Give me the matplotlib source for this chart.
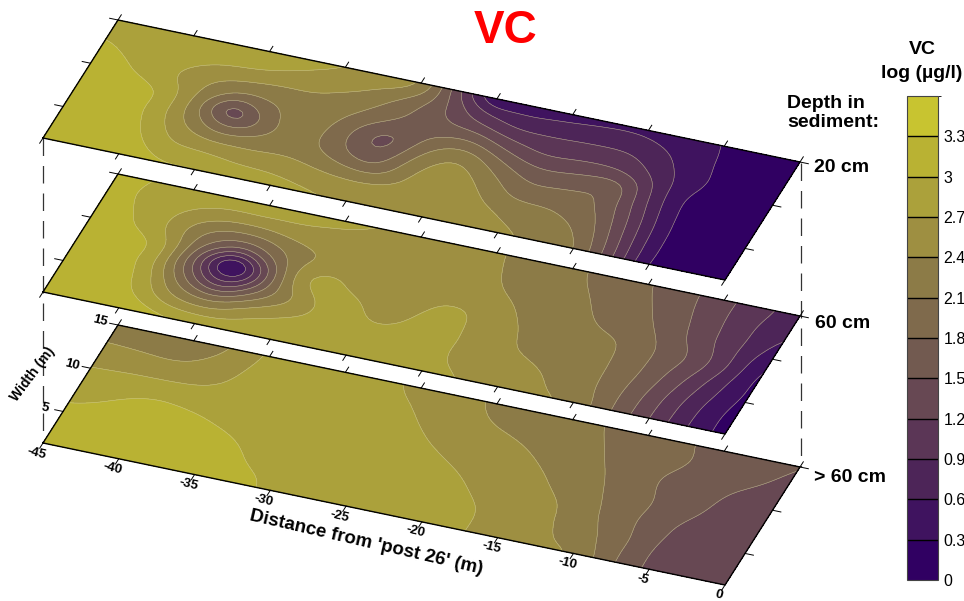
import numpy as np
import matplotlib
matplotlib.use("Agg")
import matplotlib.pyplot as plt
import matplotlib.tri as mtri
from matplotlib.colors import ListedColormap, BoundaryNorm
from matplotlib.cm import ScalarMappable
from matplotlib.transforms import Affine2D

plt.rcParams['font.family'] = ['Liberation Sans', 'DejaVu Sans']

# grid of the survey area, metres
distance = [-45, -42.5, -40, -37.5, -35, -32.5, -30, -27.5, -25, -22.5, -20, -17.5, -15, -12.5, -10, -7.5, -5, -2.5, 0]
width = [15, 12.725, 10.45, 8.175, 5.9, 3.625, 1.35]

# log VC, one row per width (15 m first)
vc_20cm = [
    [2.85, 2.88, 2.92, 2.96, 3.02, 2.85, 2.72, 2.55, 2.42, 1.22, 0.22, 0.38, 0.45, 0.50, 0.50, 0.42, 0.28, 0.15, 0.05],
    [3.02, 2.90, 2.85, 2.73, 2.68, 2.58, 2.47, 2.33, 1.95, 1.48, 1.05, 0.80, 0.83, 0.85, 0.83, 0.58, 0.30, 0.17, 0.05],
    [3.12, 3.00, 2.75, 2.42, 2.18, 2.18, 2.27, 2.08, 1.75, 1.68, 1.72, 1.35, 1.15, 1.20, 1.15, 0.75, 0.33, 0.15, 0.05],
    [3.20, 3.15, 3.02, 2.30, 1.22, 2.00, 2.25, 1.85, 1.36, 2.00, 2.35, 1.95, 1.62, 1.67, 1.75, 0.90, 0.22, 0.10, 0.03],
    [3.22, 3.20, 3.00, 2.43, 2.00, 2.15, 2.25, 2.00, 1.70, 2.30, 2.60, 2.30, 1.95, 1.97, 1.78, 1.05, 0.25, 0.10, 0.03],
    [3.22, 3.22, 3.10, 2.72, 2.65, 2.55, 2.55, 2.45, 2.40, 2.50, 2.65, 2.50, 2.32, 2.20, 1.97, 1.15, 0.27, 0.08, 0.02],
    [3.25, 3.25, 3.20, 3.05, 3.05, 2.95, 2.85, 2.75, 2.68, 2.62, 2.58, 2.52, 2.45, 2.35, 2.15, 1.25, 0.25, 0.08, 0.02],
]
vc_60cm = [
    [3.10, 3.00, 2.90, 2.93, 3.02, 2.90, 2.80, 2.70, 2.65, 2.60, 2.43, 2.30, 2.16, 2.00, 1.82, 1.60, 1.30, 1.00, 0.72],
    [3.15, 2.95, 2.75, 2.50, 2.45, 2.55, 2.55, 2.55, 2.52, 2.50, 2.45, 2.33, 2.20, 2.07, 1.90, 1.65, 1.32, 0.95, 0.60],
    [3.18, 3.02, 2.65, 2.00, 1.70, 2.07, 2.42, 2.55, 2.55, 2.55, 2.50, 2.40, 2.27, 2.13, 1.97, 1.75, 1.35, 0.95, 0.42],
    [3.20, 3.15, 2.92, 1.60, 0.02, 1.55, 2.75, 2.70, 2.55, 2.65, 2.75, 2.50, 2.33, 2.22, 2.15, 1.85, 1.50, 0.95, 0.20],
    [3.22, 3.20, 2.90, 1.88, 1.00, 1.80, 2.42, 2.85, 2.65, 2.72, 2.77, 2.55, 2.37, 2.27, 2.17, 1.85, 1.35, 0.75, 0.20],
    [3.22, 3.22, 3.02, 2.45, 2.25, 2.55, 2.75, 2.85, 2.80, 2.80, 2.75, 2.60, 2.50, 2.38, 2.20, 1.80, 1.23, 0.63, 0.15],
    [3.22, 3.22, 3.20, 3.10, 3.03, 2.98, 2.92, 2.88, 2.85, 2.82, 2.78, 2.70, 2.58, 2.45, 2.33, 1.80, 1.20, 0.60, 0.15],
]
vc_deep = [
    [2.25, 2.18, 2.08, 2.40, 2.75, 2.85, 2.90, 2.78, 2.62, 2.50, 2.35, 2.28, 2.18, 2.08, 1.97, 1.82, 1.72, 1.60, 1.50],
    [2.42, 2.40, 2.38, 2.55, 2.80, 2.88, 2.88, 2.83, 2.72, 2.55, 2.42, 2.35, 2.25, 2.13, 1.95, 1.85, 1.70, 1.58, 1.42],
    [2.67, 2.68, 2.68, 2.72, 2.85, 2.87, 2.87, 2.85, 2.78, 2.67, 2.55, 2.47, 2.35, 2.20, 2.00, 1.78, 1.62, 1.45, 1.30],
    [2.87, 2.95, 3.02, 2.98, 2.92, 2.88, 2.87, 2.85, 2.82, 2.75, 2.67, 2.55, 2.45, 2.28, 2.05, 1.83, 1.58, 1.40, 1.28],
    [3.00, 3.05, 3.10, 3.07, 3.03, 2.95, 2.90, 2.87, 2.85, 2.82, 2.77, 2.63, 2.50, 2.40, 2.10, 1.80, 1.48, 1.35, 1.25],
    [3.10, 3.15, 3.18, 3.15, 3.10, 3.00, 2.93, 2.90, 2.87, 2.85, 2.80, 2.72, 2.55, 2.43, 2.20, 1.85, 1.42, 1.30, 1.22],
    [3.15, 3.20, 3.22, 3.20, 3.15, 3.08, 2.96, 2.92, 2.88, 2.85, 2.80, 2.72, 2.58, 2.48, 2.38, 1.85, 1.42, 1.30, 1.20],
]

layers = [vc_20cm, vc_60cm, vc_deep]
layer_names = ["20 cm", "60 cm", "> 60 cm"]
layer_base = [138, 292, 443]  # pixel row of the lower left corner

levels = [0, 0.3, 0.6, 0.9, 1.2, 1.5, 1.8, 2.1, 2.4, 2.7, 3.0, 3.3, 3.6]
level_colors = ["#300062", "#3f135f", "#4d2558", "#5b3656", "#674853", "#725a50",
                "#7f6a4c", "#8c7b47", "#9e8f41", "#aba13b", "#b9b233", "#c8c430"]
level_labels = ["0", "0.3", "0.6", "0.9", "1.2", "1.5", "1.8", "2.1", "2.4", "2.7", "3", "3.3"]

x_ticks = [-45, -40, -35, -30, -25, -20, -15, -10, -5, 0]
y_ticks = [5, 10, 15]

X0, X1 = -45, 0
Y0, Y1 = 1.35, 15


def surface_transform(ax, base):
    # oblique projection of a map layer onto the page
    xx = 682 / (X1 - X0)
    xy = 142 / (X1 - X0)
    yx = 75 / (Y1 - Y0)
    yy = -118 / (Y1 - Y0)
    return Affine2D().from_values(xx, xy, yx, yy, 43 - X0 * xx - Y0 * yx, base - X0 * xy - Y0 * yy) + ax.transData


def soften(z, size=11):
    # the original map is kriged, so take the corners off the hand-read grid
    kernel = np.hanning(size + 2)[1:-1]
    kernel = kernel / kernel.sum()
    pad = size // 2
    z = np.pad(z, pad, mode="edge")
    z = np.apply_along_axis(lambda r: np.convolve(r, kernel, mode="same"), 0, z)
    z = np.apply_along_axis(lambda r: np.convolve(r, kernel, mode="same"), 1, z)
    return z[pad:-pad, pad:-pad]


def draw_layer(ax, values, base, cmap, norm):
    tr = surface_transform(ax, base)
    X, Y = np.meshgrid(distance, width)
    tri = mtri.Triangulation(X.ravel(), Y.ravel())
    interp = mtri.CubicTriInterpolator(tri, np.array(values).ravel(), kind="geom")
    xf = np.linspace(X0, X1, 145)
    yf = np.linspace(Y0, Y1, 49)
    Xf, Yf = np.meshgrid(xf, yf)
    zf = soften(np.ma.filled(interp(Xf, Yf), np.nan))
    zf = np.clip(zf, 0.01, 3.55)
    ax.contourf(Xf, Yf, zf, levels=levels, cmap=cmap, norm=norm, transform=tr)
    ax.contour(Xf, Yf, zf, levels=levels[1:-1], colors="#cfc8a6", linewidths=0.4, alpha=0.75, transform=tr)

    ax.plot([X0, X1, X1, X0, X0], [Y0, Y0, Y1, Y1, Y0], color="black", lw=1.0, transform=tr, solid_joinstyle="miter")
    # ticks stick out of all four edges
    for t in x_ticks:
        ax.plot([t, t], [Y1, Y1 + 0.6], color="black", lw=0.7, transform=tr)
        ax.plot([t, t], [Y0, Y0 - 0.6], color="black", lw=0.7, transform=tr)
    for t in y_ticks:
        ax.plot([X0, X0 - 0.55], [t, t], color="black", lw=0.7, transform=tr)
        ax.plot([X1, X1 + 0.55], [t, t], color="black", lw=0.7, transform=tr)
    return tr


def main():
    fig = plt.figure(figsize=(9.64, 6.01), dpi=100)
    ax = fig.add_axes([0, 0, 1, 1])
    ax.set_xlim(0, 964)
    ax.set_ylim(601, 0)
    ax.axis("off")

    cmap = ListedColormap(level_colors)
    norm = BoundaryNorm(levels, cmap.N)

    # dashed drop lines between the layers
    for x_page, tops in ((43, (138, 292, 443)), (801, (163, 316, 467))):
        ax.plot([x_page, x_page], [tops[0], tops[2]], color="#333333", lw=0.9, linestyle=(0, (14, 8)))

    transforms = [draw_layer(ax, v, b, cmap, norm) for v, b in zip(layers, layer_base)]

    # axis labels only on the lowest layer
    tr = transforms[-1]
    for t in x_ticks:
        ax.text(t, Y0 - 1.15, str(t), transform=tr, fontsize=9.5, fontweight="bold", rotation=-14,
                ha="center", va="center")
    for t in y_ticks:
        ax.text(-46.2, t, str(t), transform=tr, fontsize=9.5, fontweight="bold", rotation=-14,
                ha="center", va="center")
    ax.text(366, 543, "Distance from 'post 26' (m)", fontsize=13.5, fontweight="bold", rotation=-13,
            ha="center", va="center")
    ax.text(33, 374, "Width (m)", fontsize=10, fontweight="bold", rotation=53, ha="center", va="center")

    ax.text(506, 31, "VC", color="#ff0000", fontsize=33, fontweight="bold", ha="center", va="center")
    ax.text(787, 113, "Depth in\nsediment:", fontsize=14, fontweight="bold", ha="left", va="center", linespacing=1.2)
    for name, x_page, y_page in zip(layer_names, (814, 815, 814), (168, 323, 478)):
        ax.text(x_page, y_page, name, fontsize=14, fontweight="bold", ha="left", va="center")
    ax.text(922, 50, "VC", fontsize=14, fontweight="bold", ha="center", va="center")
    ax.text(922, 73, "log (µg/l)", fontsize=14, fontweight="bold", ha="center", va="center")

    # colour key
    cax = fig.add_axes([907 / 964, 1 - 580 / 601, 31 / 964, 484 / 601])
    cb = fig.colorbar(ScalarMappable(norm=norm, cmap=cmap), cax=cax, drawedges=True, spacing="proportional")
    cb.set_ticks(levels[:-1])
    cb.set_ticklabels(level_labels)
    cb.ax.tick_params(length=0, pad=4, labelsize=11.5)
    cb.outline.set_edgecolor("#444444")
    cb.outline.set_linewidth(0.8)
    cb.dividers.set_color("black")
    cb.dividers.set_linewidth(1.0)

    fig.savefig("out.png", dpi=100)


if __name__ == "__main__":
    main()
